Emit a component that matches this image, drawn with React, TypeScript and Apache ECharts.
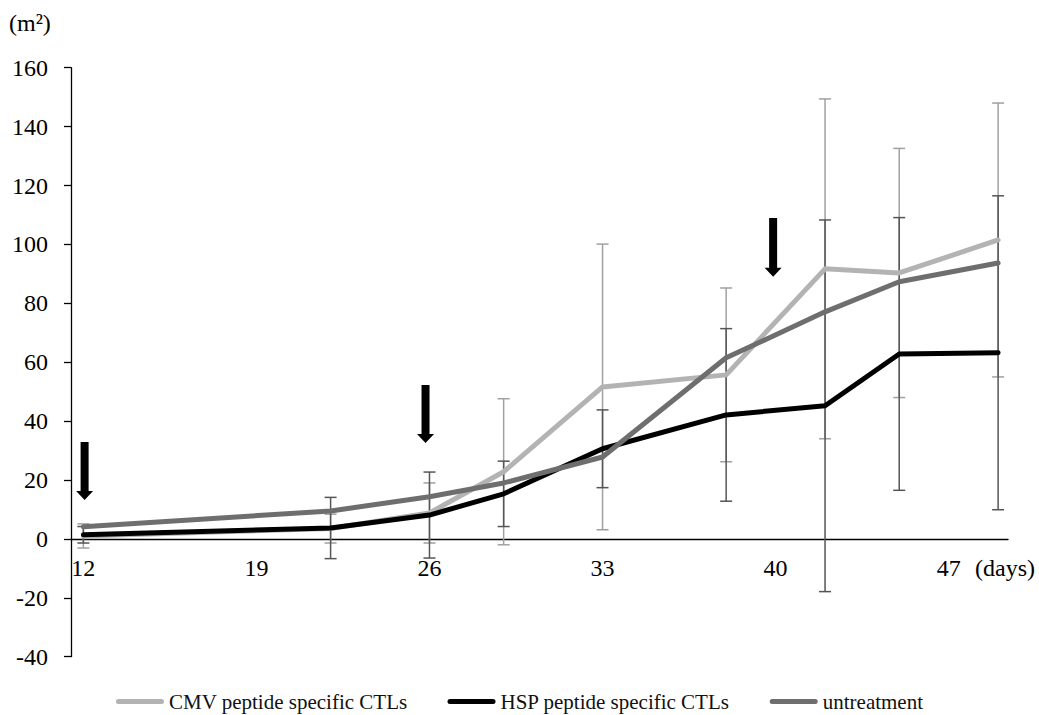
import React, { useEffect, useRef } from "react";
import * as echarts from "echarts";

const days = [12, 22, 26, 29, 33, 38, 42, 45, 49];
const cmv = [1.0, 3.5, 8.8, 22.8, 51.6, 55.7, 91.7, 90.3, 101.5];
const cmvErr = [4.1, 4.9, 10.2, 24.8, 48.5, 29.5, 57.7, 42.3, 46.5];
const hsp = [1.4, 3.7, 8.1, 15.3, 30.6, 42.1, 45.2, 62.8, 63.2];
const hspErr = [2.8, 10.4, 14.6, 11.1, 13.2, 29.3, 63.1, 46.3, 53.3];
const untreated = [4.1, 9.5, 14.3, 19.0, 27.8, 61.5, 77.1, 87.3, 93.7];
const xTickLabels = [12, 19, 26, 33, 40, 47];
// arrows: [day, top value, tip value]
const arrowDays = [12.05, 25.84, 39.9];
const arrowTops = [32.9, 52.3, 109.0];
const arrowTips = [13.2, 32.6, 89.0];

const names = ["CMV peptide specific CTLs", "HSP peptide specific CTLs", "untreatment"];
const FONT = "'Liberation Serif', 'Times New Roman', serif";

const GRID_TOP = 67.7;
const GRID_BOTTOM = 58.3;
const Y_MIN = -40;
const Y_MAX = 160;

function errData(vals: number[], errs: number[]) {
  return days.map((d, i) => [d, vals[i] - errs[i], vals[i] + errs[i]]);
}

function errSeries(name: string, vals: number[], errs: number[], color: string) {
  return {
    name,
    type: "custom",
    data: errData(vals, errs),
    encode: { x: 0, y: [1, 2] },
    silent: true,
    renderItem: (params: any, api: any) => {
      const x = api.value(0);
      const lo = api.coord([x, api.value(1)]);
      const hi = api.coord([x, api.value(2)]);
      const hw = 6;
      const st = { stroke: color, lineWidth: 1.5 };
      return {
        type: "group",
        children: [
          { type: "line", shape: { x1: hi[0], y1: hi[1], x2: lo[0], y2: lo[1] }, style: st },
          { type: "line", shape: { x1: hi[0] - hw, y1: hi[1], x2: hi[0] + hw, y2: hi[1] }, style: st },
          { type: "line", shape: { x1: lo[0] - hw, y1: lo[1], x2: lo[0] + hw, y2: lo[1] }, style: st },
        ],
      };
    },
  };
}

function lineSeries(name: string, vals: number[], color: string) {
  return {
    name,
    type: "line",
    data: days.map((d, i) => [d, vals[i]]),
    symbol: "none",
    color,
    itemStyle: { color },
    lineStyle: { color, width: 5, cap: "round", join: "round" },
    silent: true,
  };
}

const legendIcon = "path://M2.5,0H45.5A2.5,2.5,0,0,1,45.5,5H2.5A2.5,2.5,0,0,1,2.5,0Z";

export default function App() {
  const ref = useRef<HTMLDivElement>(null);
  useEffect(() => {
    document.body.style.margin = "0";
    if (!ref.current) return;
    const chart = echarts.init(ref.current, null, { renderer: "svg" });
    const plotH = 715 - GRID_TOP - GRID_BOTTOM;
    // move the x axis (line + labels) up to the zero line
    const xOffset = -(plotH * (0 - Y_MIN)) / (Y_MAX - Y_MIN);
    chart.setOption({
      animation: false,
      backgroundColor: "#ffffff",
      textStyle: { fontFamily: FONT },
      grid: { left: 71, right: 31, top: GRID_TOP, bottom: GRID_BOTTOM, containLabel: false },
      legend: {
        data: names,
        left: "center",
        top: 686,
        itemWidth: 48,
        itemHeight: 5,
        itemGap: 40,
        icon: legendIcon,
        textStyle: { fontFamily: FONT, fontSize: 21, color: "#111" },
        selectedMode: false,
      },
      xAxis: {
        type: "value",
        min: 11.5,
        max: 49.4,
        offset: xOffset,
        axisLine: { show: true, onZero: false, lineStyle: { color: "#000", width: 1.3 } },
        axisTick: { show: false },
        splitLine: { show: false },
        axisLabel: {
          customValues: xTickLabels,
          fontFamily: FONT,
          fontSize: 24,
          color: "#000",
          margin: 17,
        },
      },
      yAxis: {
        type: "value",
        min: Y_MIN,
        max: Y_MAX,
        interval: 20,
        axisLine: { show: true, lineStyle: { color: "#000", width: 1.3 } },
        axisTick: { show: true, inside: false, length: 7, lineStyle: { color: "#000", width: 1.3 } },
        splitLine: { show: false },
        axisLabel: { fontFamily: FONT, fontSize: 24, color: "#000", margin: 23 },
      },
      graphic: [
        {
          type: "text",
          left: 9,
          top: 11,
          style: { text: "(m²)", fontFamily: FONT, fontSize: 24, fill: "#000" },
        },
        {
          type: "text",
          left: 975,
          top: 556,
          style: { text: "(days)", fontFamily: FONT, fontSize: 24, fill: "#000" },
        },
      ],
      series: [
        errSeries("CMV err", cmv, cmvErr, "#a0a0a0"),
        lineSeries(names[0], cmv, "#b3b3b3"),
        errSeries("HSP err", hsp, hspErr, "#555555"),
        lineSeries(names[1], hsp, "#000000"),
        lineSeries(names[2], untreated, "#6e6e6e"),
        {
          name: "arrows",
          type: "custom",
          silent: true,
          data: arrowDays.map((d, i) => [d, arrowTops[i], arrowTips[i]]),
          encode: { x: 0, y: [1, 2] },
          renderItem: (params: any, api: any) => {
            const x = api.value(0);
            const top = api.coord([x, api.value(1)]);
            const tip = api.coord([x, api.value(2)]);
            const cx = top[0];
            const sw = 4;
            const hw = 8.5;
            const hh = 9;
            return {
              type: "polygon",
              shape: {
                points: [
                  [cx - sw, top[1]],
                  [cx + sw, top[1]],
                  [cx + sw, tip[1] - hh],
                  [cx + hw, tip[1] - hh],
                  [cx, tip[1]],
                  [cx - hw, tip[1] - hh],
                  [cx - sw, tip[1] - hh],
                ],
              },
              style: { fill: "#000" },
            };
          },
        },
      ],
    });
    return () => chart.dispose();
  }, []);
  return <div ref={ref} style={{ width: 1039, height: 715 }} />;
}
